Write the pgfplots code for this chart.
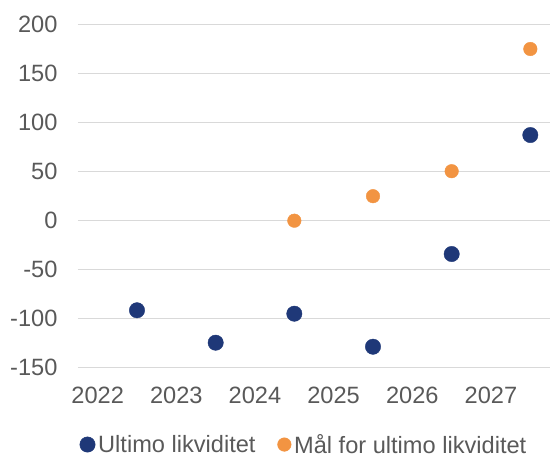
\documentclass[border=0pt]{standalone}
\usepackage{fontspec}
\setmainfont{Liberation Sans}
\usepackage{pgfplots}
\pgfplotsset{compat=1.18}
\definecolor{navy}{RGB}{31,56,120}
\definecolor{orng}{RGB}{242,148,66}
\definecolor{txtgray}{RGB}{89,89,89}
\definecolor{gridgray}{RGB}{217,217,217}
\begin{document}
\begin{tikzpicture}
\begin{axis}[
  scale only axis, width=472pt, height=343pt,
  at={(0,0)}, anchor=south west,
  xmin=2021.75, xmax=2027.75, ymin=-150, ymax=200,
  xtick={2022,...,2027}, ytick={-150,-100,...,200},
  axis line style={draw=none}, major tick length=0pt,
  tick style={draw=none},
  ymajorgrids, grid style={gridgray, line width=1pt},
  font=\fontsize{23.6}{28}\selectfont,
  tick label style={text=txtgray},
  /pgf/number format/assume math mode=true,
  /pgf/number format/1000 sep={},
  yticklabel style={xshift=-17pt},
  xticklabel style={yshift=-16pt},
  clip=false,
  legend columns=2,
  legend style={at={(0.48,-0.224)}, anchor=center, draw=none, fill=none,
    text=txtgray, font=\fontsize{23.6}{28}\selectfont,
    nodes={inner sep=3pt},
    /tikz/every even column/.append style={column sep=19pt}},
  legend image code/.code={\draw[#1] plot coordinates {(0pt,0pt)};},
]
\addplot[only marks, mark=*, mark size=7.7pt, navy] coordinates {
  (2022.5,-91.4) (2023.5,-124.5) (2024.5,-94.9) (2025.5,-128.6) (2026.5,-34) (2027.5,87.4)
};
\addplot[only marks, mark=*, mark size=6.8pt, orng] coordinates {
  (2024.5,0) (2025.5,25) (2026.5,50.5) (2027.5,175.2)
};
\legend{Ultimo likviditet, Mål for ultimo likviditet}
\end{axis}
\pgfresetboundingbox
\path[use as bounding box] (-78pt,-89.3pt) rectangle (473pt,367.7pt);
\end{tikzpicture}
\end{document}
